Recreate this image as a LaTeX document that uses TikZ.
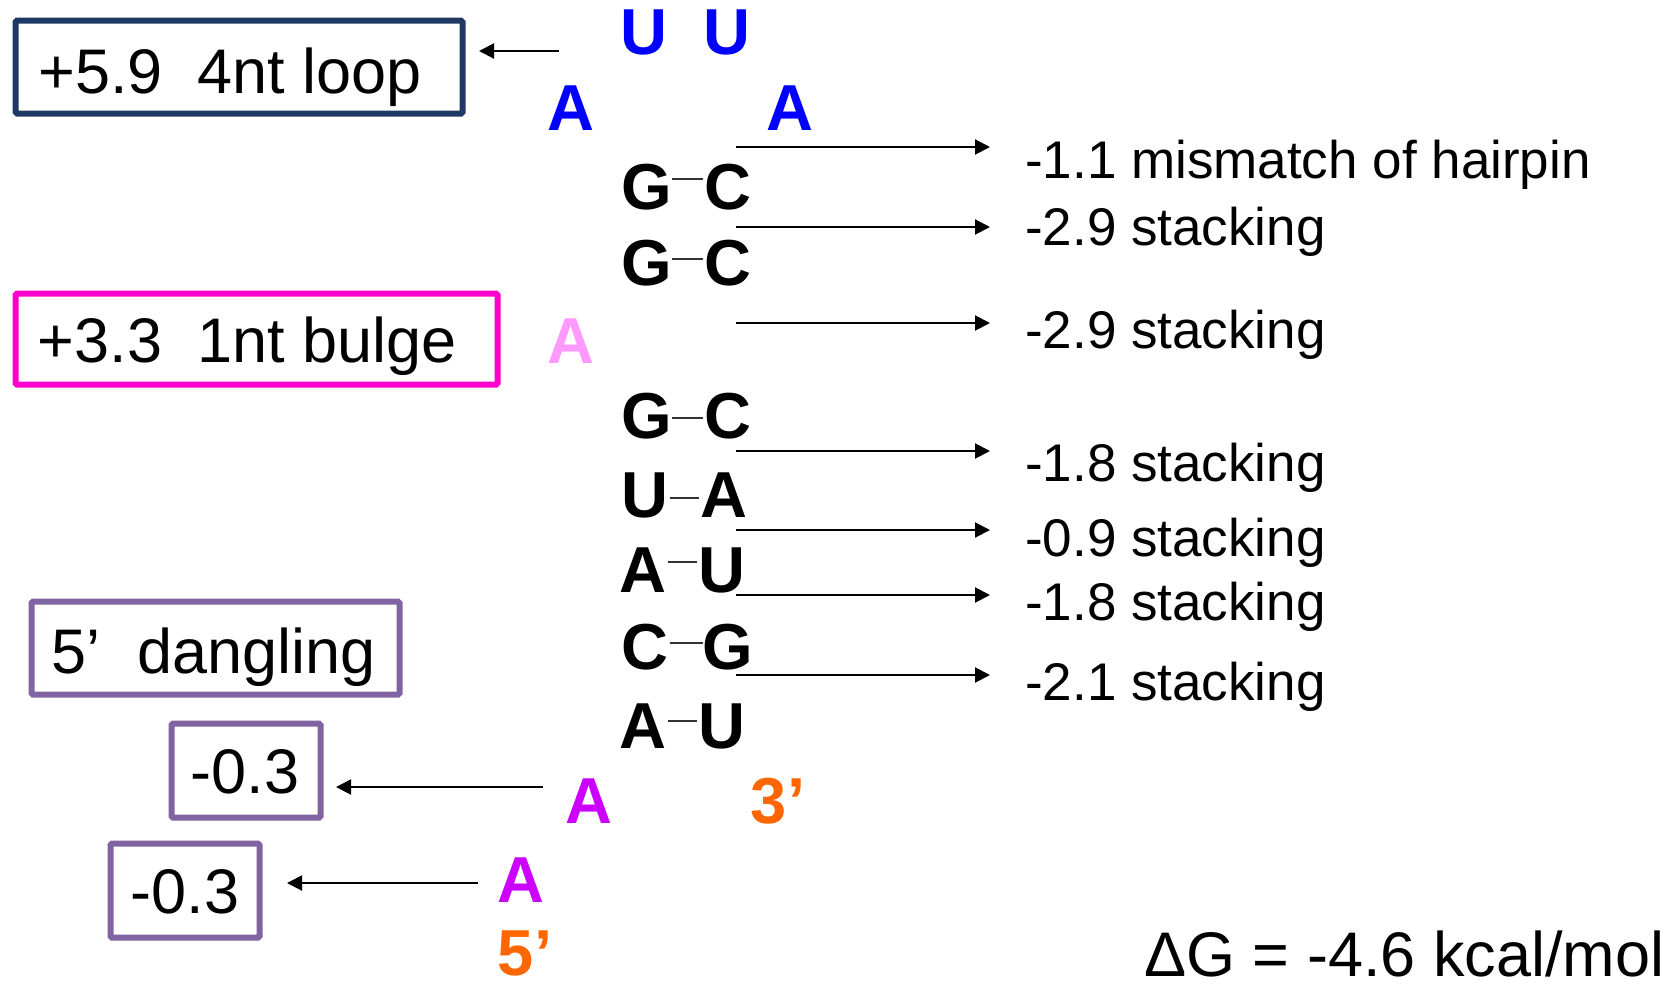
\documentclass[tikz,border=0pt]{standalone}
\usepackage{fontspec}
\setmainfont{Liberation Sans}
\usetikzlibrary{arrows.meta}
\definecolor{navybox}{HTML}{203864}
\definecolor{magbox}{HTML}{FF00CC}
\definecolor{purpbox}{HTML}{8064A2}
\definecolor{loopblue}{HTML}{0000FF}
\definecolor{bulgepink}{HTML}{FF99FF}
\definecolor{dangmag}{HTML}{CC00FF}
\definecolor{endorange}{HTML}{FF6600}
\begin{document}
\begin{tikzpicture}[x=1pt,y=-1pt,
  nt/.style={inner sep=0pt, font=\fontsize{65}{70}\selectfont\bfseries, text height=46.5pt, text depth=0pt, minimum width=50pt},
  lbl/.style={inner sep=0pt, anchor=west, font=\fontsize{53}{60}\selectfont, text height=38pt, text depth=0pt},
  boxtxt/.style={inner sep=0pt, font=\fontsize{63}{70}\selectfont, text height=45pt, text depth=0pt},
  frame/.style={draw, line width=6pt, rounded corners=1.5pt, inner sep=0pt},
  arr/.style={line width=2pt, -{Triangle[length=15pt,width=15pt]}},
  bond/.style={line width=1.7pt, draw=black!80}]
\useasboundingbox (0,0) rectangle (1677,986);

% boxes
\node[frame, draw=navybox, minimum width=447pt, minimum height=93pt] (b1) at (239,67) {};
\node[frame, draw=magbox, minimum width=482pt, minimum height=91pt] (b2) at (256.5,339) {};
\node[frame, draw=purpbox, minimum width=368pt, minimum height=93pt] (b3) at (215.5,648) {};
\node[frame, draw=purpbox, minimum width=149pt, minimum height=94pt] (b4) at (246,770.5) {};
\node[frame, draw=purpbox, minimum width=149pt, minimum height=94pt] (b5) at (185,890.5) {};

\node[boxtxt] (t1) at (230,71) {+5.9\ \ 4nt loop};
\node[boxtxt] (t2) at (247,340) {+3.3\ \ 1nt bulge};
\node[boxtxt] (t3) at (214,651) {5’\hspace{37pt}dangling};
\node[boxtxt] (t4) at (245,771) {-0.3};
\node[boxtxt] (t5) at (185,891) {-0.3};

% loop
\node[nt, text=loopblue] (u1) at (644,31) {U};
\node[nt, text=loopblue] (u2) at (727,31) {U};
\node[nt, text=loopblue] (a1) at (571,107) {A};
\node[nt, text=loopblue] (a2) at (790,107) {A};

% stem
\node[nt] (g1) at (647,186) {G};
\node[nt] (c1) at (728,186) {C};
\node[nt] (g2) at (647,262) {G};
\node[nt] (c2) at (728,262) {C};
\node[nt, text=bulgepink] (ab) at (571,340) {A};
\node[nt] (g4) at (647,415) {G};
\node[nt] (c4) at (728,415) {C};
\node[nt] (u5) at (645,494) {U};
\node[nt] (a5) at (724,494) {A};
\node[nt] (a6) at (643,569) {A};
\node[nt] (u6) at (722,569) {U};
\node[nt] (c7) at (645,646) {C};
\node[nt] (g7) at (728,646) {G};
\node[nt] (a8) at (643,725) {A};
\node[nt] (u8) at (722,725) {U};

\node[nt, text=dangmag] (a9) at (589,800) {A};
\node[nt, text=endorange] (e3) at (778,800) {3’};
\node[nt, text=dangmag] (a10) at (521,879) {A};
\node[nt, text=endorange] (e5) at (525,952) {5’};

% bonds
\draw[bond] ([yshift=7pt]g1.east) -- ([yshift=7pt]c1.west);
\draw[bond] ([yshift=3pt]g2.east) -- ([yshift=3pt]c2.west);
\draw[bond] ([yshift=-3pt]g4.east) -- ([yshift=-3pt]c4.west);
\draw[bond] ([yshift=-4pt]u5.east) -- ([yshift=-4pt]a5.west);
\draw[bond] ([yshift=7pt]a6.east) -- ([yshift=7pt]u6.west);
\draw[bond] ([yshift=3pt]c7.east) -- ([yshift=3pt]g7.west);
\draw[bond] ([yshift=4pt]a8.east) -- ([yshift=4pt]u8.west);

% energy labels
\node[lbl] (l1) at (1025,159) {-1.1 mismatch of hairpin};
\node[lbl] (l2) at (1025,226) {-2.9 stacking};
\node[lbl] (l3) at (1025,329) {-2.9 stacking};
\node[lbl] (l4) at (1025,462) {-1.8 stacking};
\node[lbl] (l5) at (1025,537) {-0.9 stacking};
\node[lbl] (l6) at (1025,601) {-1.8 stacking};
\node[lbl] (l7) at (1025,681) {-2.1 stacking};

% right arrows
\foreach \i/\yy in {1/147,2/227,3/323,4/451,5/530,6/595,7/675}{
  \coordinate (s\i) at (736,\yy);
  \coordinate (e\i) at (990,\yy);
  \draw[arr] (s\i) -- (e\i);
}

% left arrows
\coordinate (ls1) at (559,51);  \coordinate (le1) at (479,51);
\coordinate (ls2) at (543,787); \coordinate (le2) at (336,787);
\coordinate (ls3) at (478,883); \coordinate (le3) at (287,883);
\draw[arr] (ls1) -- (le1);
\draw[arr] (ls2) -- (le2);
\draw[arr] (ls3) -- (le3);

% total
\node[boxtxt, anchor=west] (dg) at (1144,954) {ΔG = -4.6 kcal/mol};
\end{tikzpicture}
\end{document}
